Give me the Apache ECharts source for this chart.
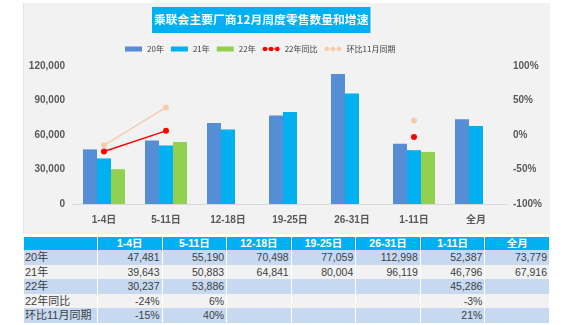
<!DOCTYPE html>
<html>
<head>
<meta charset="utf-8">
<script src="https://cdn.jsdelivr.net/npm/echarts@6/dist/echarts.min.js"></script>
<style>
html,body{margin:0;padding:0;background:#fff;width:574px;height:325px;overflow:hidden;}
#panel{position:absolute;left:23px;top:3px;width:527px;height:231px;background:#f2f2f2;border-left:1px solid #e4e4e4;box-sizing:border-box;}
#chart{position:absolute;left:0;top:0;width:574px;height:237px;}
#tbl{position:absolute;left:23px;top:237px;border-collapse:collapse;table-layout:fixed;width:527px;font-family:"Liberation Sans","Noto Sans CJK SC",sans-serif;font-size:10.5px;color:#404040;}
#tbl td{border:1px solid #fff;border-top:none;border-bottom:none;padding:0 2px;white-space:nowrap;overflow:hidden;height:14.5px;line-height:14px;text-align:right;}
#tbl tr.h td{background:#00b0f0;color:#fff;font-weight:bold;text-align:center;height:13px;line-height:13px;}
#tbl tr.b td{background:#c6d9f1;}
#tbl tr.g td{background:#f2f2f2;}
#tbl td.l{text-align:left;padding-left:1px;font-size:11px;}
</style>
</head>
<body>
<div id="panel"></div>
<div id="chart"></div>
<table id="tbl"></table>
<script>
var categories = ['1-4日','5-11日','12-18日','19-25日','26-31日','1-11日','全月'];
var sales20 = [47481, 55190, 70498, 77059, 112998, 52387, 73779];
var sales21 = [39643, 50883, 64841, 80004, 96119, 46796, 67916];
var sales22 = [30237, 53886, null, null, null, 45286, null];
var yoy22 = [-24, 6, null, null, null, -3, null];
var mom11 = [-15, 40, null, null, null, 21, null];
var leftTicks = [0, 30000, 60000, 90000, 120000];
var rightTicks = [-100, -50, 0, 50, 100];
var titleText = '乘联会主要厂商12月周度零售数量和增速';

var FONT = '"Liberation Sans","Noto Sans CJK SC",sans-serif';
var dotsIcon = 'path://M0,3 A3,3 0 1 0 6,3 A3,3 0 1 0 0,3 Z M6,2.4 L8,2.4 L8,3.6 L6,3.6 Z M8,3 A3,3 0 1 0 14,3 A3,3 0 1 0 8,3 Z M14,2.4 L16,2.4 L16,3.6 L14,3.6 Z M16,3 A3,3 0 1 0 22,3 A3,3 0 1 0 16,3 Z';
var chart = echarts.init(document.getElementById('chart'));
chart.setOption({
  backgroundColor: 'transparent',
  animation: false,
  title: {
    text: titleText,
    left: 152, top: 7,
    backgroundColor: '#00b0f0',
    padding: [6, 2, 6, 2],
    textStyle: {color: '#fff', fontSize: 11.8, fontWeight: 'bold', lineHeight: 14, fontFamily: '"Noto Sans CJK SC",sans-serif'}
  },
  legend: {
    top: 40, left: 120,
    itemWidth: 17, itemHeight: 5, itemGap: 7,
    textStyle: {fontSize: 8, color: '#404040', fontFamily: '"Noto Sans CJK SC",sans-serif'},
    data: [
      {name: '20年', icon: 'rect'},
      {name: '21年', icon: 'rect'},
      {name: '22年', icon: 'rect'},
      {name: '22年同比', icon: dotsIcon},
      {name: '环比11月同期', icon: dotsIcon}
    ]
  },
  grid: {left: 73, right: 67, top: 66, bottom: 33},
  xAxis: {
    type: 'category', data: categories,
    axisLine: {lineStyle: {color: '#d9d9d9'}},
    axisTick: {show: false},
    axisLabel: {color: '#595959', fontSize: 10, fontWeight: 'bold', margin: 11, fontFamily: FONT}
  },
  yAxis: [{
    type: 'value', min: leftTicks[0], max: leftTicks[leftTicks.length-1], interval: leftTicks[1]-leftTicks[0],
    axisLine: {show: false}, axisTick: {show: false}, splitLine: {show: false},
    axisLabel: {color: '#595959', fontSize: 10, fontWeight: 'bold', margin: 8, fontFamily: FONT,
      formatter: function(v){ return v.toLocaleString('en-US'); }}
  }, {
    type: 'value', min: rightTicks[0], max: rightTicks[rightTicks.length-1], interval: rightTicks[1]-rightTicks[0],
    axisLine: {show: false}, axisTick: {show: false}, splitLine: {show: false},
    axisLabel: {color: '#595959', fontSize: 10, fontWeight: 'bold', margin: 6, fontFamily: FONT, formatter: '{value}%'}
  }],
  series: [
    {name: '20年', type: 'bar', data: sales20, barWidth: 14, barGap: 0, itemStyle: {color: '#558ed5'}},
    {name: '21年', type: 'bar', data: sales21, barWidth: 14, barGap: 0, itemStyle: {color: '#00b0f0'}},
    {name: '22年', type: 'bar', data: sales22, barWidth: 14, barGap: 0, itemStyle: {color: '#92d050'}},
    {name: '22年同比', type: 'line', yAxisIndex: 1, data: yoy22, symbol: 'circle', symbolSize: 6, showAllSymbol: true,
      lineStyle: {color: '#ff0000', width: 1.5}, itemStyle: {color: '#ff0000'}},
    {name: '环比11月同期', type: 'line', yAxisIndex: 1, data: mom11, symbol: 'circle', symbolSize: 6, showAllSymbol: true,
      lineStyle: {color: '#f8cbad', width: 1.5}, itemStyle: {color: '#f8cbad'}}
  ]
});

function fmt(v){ return v == null ? '' : v.toLocaleString('en-US'); }
function pct(v){ return v == null ? '' : v + '%'; }
var rows = [
  {label: '20年', vals: sales20.map(fmt), cls: 'b'},
  {label: '21年', vals: sales21.map(fmt), cls: 'g'},
  {label: '22年', vals: sales22.map(fmt), cls: 'b'},
  {label: '22年同比', vals: yoy22.map(pct), cls: 'g'},
  {label: '环比11月同期', vals: mom11.map(pct), cls: 'b'}
];
var html = '<colgroup><col style="width:74px">';
categories.forEach(function(){ html += '<col>'; });
html += '</colgroup><tr class="h"><td></td>';
categories.forEach(function(c){ html += '<td>' + c + '</td>'; });
html += '</tr>';
rows.forEach(function(r){
  html += '<tr class="' + r.cls + '"><td class="l">' + r.label + '</td>';
  r.vals.forEach(function(v){ html += '<td>' + v + '</td>'; });
  html += '</tr>';
});
document.getElementById('tbl').innerHTML = html;
</script>
</body>
</html>
